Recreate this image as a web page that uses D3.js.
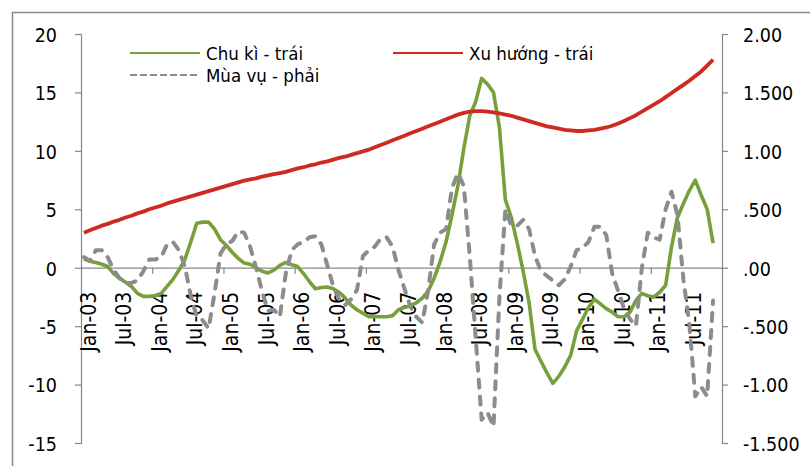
<!DOCTYPE html>
<html>
<head>
<meta charset="utf-8">
<script src="https://cdn.jsdelivr.net/npm/d3@7"></script>
<style>
  body { margin: 0; background: #fff; }
  text { font-family: "DejaVu Sans Condensed", "DejaVu Sans", sans-serif; fill: #000; }
</style>
</head>
<body>
<svg id="chart" width="810" height="466"></svg>
<script>
// Monthly categories, Jan-03 .. Dec-11
const categories = d3.timeMonth.range(new Date(2003, 0, 1), new Date(2012, 0, 1));
const fmtMonth = d3.timeFormat("%b-%y");

// Labels shown on the category axis (every 6 months)
const xTickLabels = ["Jan-03","Jul-03","Jan-04","Jul-04","Jan-05","Jul-05","Jan-06","Jul-06",
  "Jan-07","Jul-07","Jan-08","Jul-08","Jan-09","Jul-09","Jan-10","Jul-10","Jan-11","Jul-11"];

// Left axis (cycle, trend) and right axis (seasonal) ticks
const leftTicks = [-15, -10, -5, 0, 5, 10, 15, 20];
const rightTicks = [-1.5, -1.0, -0.5, 0, 0.5, 1.0, 1.5, 2.0];
const rightTickLabels = ["-1.500", "-1.00", "-.500", ".00", ".500", "1.00", "1.500", "2.00"];

// Chu kì (cycle) - left axis, Jan-03 .. Nov-11
const cycle = [
  0.75, 0.55, 0.45, 0.3, 0.1, -0.5, -0.9, -1.25, -1.6, -2.2,
  -2.45, -2.45, -2.4, -2.2, -1.6, -1.0, -0.2, 0.7, 2.2, 3.8,
  3.9, 3.9, 3.3, 2.4, 1.9, 1.3, 0.8, 0.4, 0.3, 0.0,
  -0.3, -0.45, -0.2, 0.2, 0.45, 0.25, 0.1, -0.5, -1.2, -1.8,
  -1.7, -1.65, -1.8, -2.1, -2.6, -3.2, -3.6, -3.9, -4.2, -4.2,
  -4.2, -4.2, -4.1, -3.6, -3.4, -3.25, -3.0, -2.6, -2.0, -0.9,
  0.5, 2.2, 4.5, 7.0, 10.2, 13.0, 14.2, 16.2, 15.7, 15.0,
  12.0, 5.8, 4.3, 2.1, -0.3, -3.0, -7.0, -8.0, -9.0, -9.9,
  -9.3, -8.5, -7.5, -5.4, -4.4, -3.4, -2.7, -3.1, -3.5, -3.8,
  -4.2, -4.2, -3.8, -2.8, -2.2, -2.4, -2.5, -2.1, -1.5, 1.8,
  4.3, 5.5, 6.6, 7.5, 6.2, 5.0, 2.1
];

// Xu hướng (trend) - left axis
const trend = [
  3.0, 3.2, 3.4, 3.6, 3.75, 3.95, 4.1, 4.3, 4.45, 4.65,
  4.8, 5.0, 5.15, 5.3, 5.5, 5.65, 5.8, 5.95, 6.1, 6.25,
  6.4, 6.55, 6.7, 6.85, 7.0, 7.15, 7.3, 7.45, 7.55, 7.65,
  7.8, 7.9, 8.0, 8.1, 8.2, 8.35, 8.5, 8.6, 8.75, 8.85,
  9.0, 9.1, 9.25, 9.4, 9.5, 9.65, 9.8, 9.95, 10.1, 10.3,
  10.5, 10.7, 10.9, 11.1, 11.3, 11.5, 11.7, 11.9, 12.1, 12.3,
  12.5, 12.7, 12.9, 13.1, 13.25, 13.35, 13.4, 13.4, 13.35, 13.3,
  13.2, 13.1, 13.0, 12.85, 12.7, 12.55, 12.4, 12.25, 12.1, 12.0,
  11.9, 11.8, 11.75, 11.7, 11.7, 11.75, 11.8, 11.9, 12.0, 12.15,
  12.35, 12.55, 12.8, 13.05, 13.35, 13.65, 13.95, 14.25, 14.6, 14.95,
  15.3, 15.65, 16.0, 16.4, 16.8, 17.3, 17.8
];

// Mùa vụ (seasonal) - right axis
const seasonal = [
  0.09, 0.06, 0.15, 0.15, 0.09, -0.02, -0.09, -0.13, -0.13, -0.11,
  -0.03, 0.07, 0.07, 0.09, 0.2, 0.22, 0.15, 0.01, -0.24, -0.42,
  -0.45, -0.52, -0.22, 0.12, 0.2, 0.23, 0.31, 0.3, 0.18, 0.0,
  -0.2, -0.37, -0.36, -0.42, -0.05, 0.15, 0.2, 0.22, 0.26, 0.27,
  0.2, 0.02, -0.16, -0.27, -0.32, -0.27, -0.19, 0.1, 0.15, 0.18,
  0.25, 0.26, 0.18, -0.02, -0.18, -0.33, -0.42, -0.47, -0.19, 0.2,
  0.3, 0.33, 0.68, 0.81, 0.7, 0.1, -0.6, -1.3, -1.24, -1.36,
  -0.25, 0.5, 0.36, 0.36, 0.41, 0.33, 0.1, -0.03, -0.07, -0.11,
  -0.15, -0.1, 0.01, 0.15, 0.17, 0.22, 0.35, 0.35, 0.28, -0.05,
  -0.2, -0.35, -0.44, -0.5, 0.0, 0.3, 0.26, 0.24, 0.5, 0.65,
  0.45, -0.1, -0.48, -1.1, -1.02, -1.1, -0.28
];

const seriesNames = ["Chu kì - trái", "Xu hướng - trái", "Mùa vụ - phải"];
const colors = { cycle: "#77a03b", trend: "#cf2a22", seasonal: "#8c8c8c" };

const svg = d3.select("#chart");
const plot = { left: 81, right: 722, top: 34, bottom: 443 };

const x = d3.scaleBand().domain(categories).range([plot.left, plot.right]);
const xIdx = d3.scaleLinear().domain([0, categories.length]).range([plot.left, plot.right]);
const yL = d3.scaleLinear().domain([-15, 20]).range([plot.bottom, plot.top]);
const yR = d3.scaleLinear().domain([-1.5, 2.0]).range([plot.bottom, plot.top]);
const cx = i => x(categories[i]) + x.bandwidth() / 2;

// chart frame
svg.append("rect")
  .attr("x", 12.5).attr("y", 12.5).attr("width", 820).attr("height", 480)
  .attr("fill", "none").attr("stroke", "#8a8a8a").attr("stroke-width", 1.5);

const axisColor = "#878787";
function styleAxis(g) {
  g.selectAll(".domain").attr("stroke", axisColor).attr("stroke-width", 1.2);
  g.selectAll(".tick line").attr("stroke", axisColor).attr("stroke-width", 1.2);
  g.selectAll(".tick text").attr("font-size", 19.5).attr("fill", "#000");
}

// left axis
svg.append("g")
  .attr("transform", `translate(${plot.left},0)`)
  .call(d3.axisLeft(yL).tickValues(leftTicks).tickSize(6).tickSizeOuter(6).tickPadding(18).tickFormat(d => d))
  .call(styleAxis)
  .call(g => g.selectAll(".tick text").attr("dy", "0.38em"));

// right axis
svg.append("g")
  .attr("transform", `translate(${plot.right},0)`)
  .call(d3.axisRight(yR).tickValues(rightTicks).tickSize(6).tickSizeOuter(6).tickPadding(15)
    .tickFormat((d, i) => rightTickLabels[i]))
  .call(styleAxis)
  .call(g => g.selectAll(".tick text").attr("dy", "0.38em"));

// horizontal category axis at zero, tick marks every 12 months
const yearTicks = d3.range(12, categories.length, 12);
svg.append("g")
  .attr("transform", `translate(0,${yL(0)})`)
  .call(d3.axisBottom(xIdx).tickValues(yearTicks).tickSize(6).tickSizeOuter(0).tickFormat(""))
  .call(styleAxis);

// rotated category labels
const labelIdx = categories.map((d, i) => i).filter(i => xTickLabels.includes(fmtMonth(categories[i])));
svg.append("g").selectAll("text")
  .data(labelIdx)
  .join("text")
  .attr("transform", i => `translate(${cx(i) + 4},${yL(0) + 24}) rotate(-90)`)
  .attr("text-anchor", "end")
  .attr("dy", "0.36em")
  .attr("font-size", 21)
  .text(i => xTickLabels[xTickLabels.indexOf(fmtMonth(categories[i]))]);

// series lines
const lineL = d3.line().x((d, i) => cx(i)).y(d => yL(d));
const lineR = d3.line().x((d, i) => cx(i)).y(d => yR(d));

svg.append("path").datum(cycle)
  .attr("d", lineL).attr("fill", "none")
  .attr("stroke", colors.cycle).attr("stroke-width", 3.6).attr("stroke-linejoin", "round");

svg.append("path").datum(trend)
  .attr("d", lineL).attr("fill", "none")
  .attr("stroke", colors.trend).attr("stroke-width", 3.8).attr("stroke-linejoin", "round");

svg.append("path").datum(seasonal)
  .attr("d", lineR).attr("fill", "none")
  .attr("stroke", colors.seasonal).attr("stroke-width", 4)
  .attr("stroke-dasharray", "8,9").attr("stroke-linecap", "round").attr("stroke-linejoin", "round");

// legend
const legend = [
  { name: seriesNames[0], color: colors.cycle, dash: null, x: 130, y: 53 },
  { name: seriesNames[1], color: colors.trend, dash: null, x: 393, y: 53 },
  { name: seriesNames[2], color: colors.seasonal, dash: "7,3", x: 130, y: 75 }
];
const lg = svg.append("g").selectAll("g").data(legend).join("g")
  .attr("transform", d => `translate(${d.x},${d.y})`);
lg.append("line").attr("x1", 0).attr("x2", 70).attr("y1", 0).attr("y2", 0)
  .attr("stroke", d => d.color).attr("stroke-width", 2.2)
  .attr("stroke-dasharray", d => d.dash);
lg.append("text").attr("x", 76).attr("dy", "0.36em").attr("font-size", 18.5).text(d => d.name);
</script>
</body>
</html>
